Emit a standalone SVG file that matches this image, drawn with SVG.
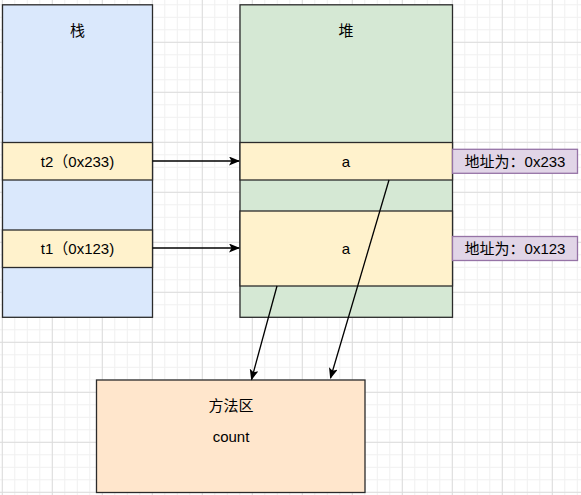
<svg xmlns="http://www.w3.org/2000/svg" width="581" height="495" viewBox="0 0 581 495">
  <defs>
    <pattern id="minor" width="12.5" height="12.5" x="1.8" y="4.3" patternUnits="userSpaceOnUse">
      <path d="M0.5,0 V12.5 M0,0.5 H12.5" stroke="#f0f0f0" stroke-width="1" fill="none"/>
    </pattern>
    <pattern id="major" width="50" height="50" x="1.8" y="-8.2" patternUnits="userSpaceOnUse">
      <path d="M0.5,0 V50 M0,0.5 H50" stroke="#dcdcdc" stroke-width="1" fill="none"/>
    </pattern>
    <marker id="arrow" markerWidth="12" markerHeight="10" refX="10" refY="4.5" orient="auto" markerUnits="userSpaceOnUse">
      <path d="M0,0 L11,4.5 L0,9 L2.5,4.5 Z" fill="#000"/>
    </marker>
    <style>
      .box { stroke: #2b2b2b; stroke-width: 1.3; }
      .stack { fill: #dae8fc; }
      .heap { fill: #d5e8d4; }
      .cell { fill: #fff2cc; }
      .method { fill: #ffe6cc; }
      .addr { fill: #e1d5e7; stroke: #9673a6; stroke-width: 1.3; }
      text { font-family: "Liberation Sans", Arial, "Noto Sans CJK SC", sans-serif; font-size: 15px; fill: #000; text-anchor: middle; dominant-baseline: central; }
      .conn { stroke: #000; stroke-width: 1.3; fill: none; }
    </style>
  </defs>
  <rect width="581" height="495" fill="#ffffff"/>
  <rect width="581" height="495" fill="url(#minor)"/>
  <rect width="581" height="495" fill="url(#major)"/>

  <g id="stack">
    <rect class="box stack" x="2.5" y="4.8" width="150" height="312.5"/>
    <text x="77.5" y="30">栈</text>
  </g>
  <g id="stack-t2">
    <rect class="box cell" x="2.5" y="142.5" width="150" height="37.5"/>
    <text x="77.5" y="161">t2（0x233)</text>
  </g>
  <g id="stack-t1">
    <rect class="box cell" x="2.5" y="230" width="150" height="37.5"/>
    <text x="77.5" y="248.5">t1（0x123)</text>
  </g>

  <g id="heap">
    <rect class="box heap" x="240" y="4.8" width="212.5" height="312.5"/>
    <text x="346" y="30">堆</text>
  </g>
  <g id="heap-a1">
    <rect class="box cell" x="240" y="142.5" width="212.5" height="37.5"/>
    <text x="346" y="161">a</text>
  </g>
  <g id="heap-a2">
    <rect class="box cell" x="240" y="211" width="212.5" height="75"/>
    <text x="346" y="248.5">a</text>
  </g>

  <g id="addr1">
    <rect class="addr" x="452.5" y="149.3" width="125" height="24"/>
    <text x="515" y="161">地址为：0x233</text>
  </g>
  <g id="addr2">
    <rect class="addr" x="452.5" y="236.5" width="125" height="24"/>
    <text x="515" y="248.5">地址为：0x123</text>
  </g>

  <g id="method-area">
    <rect class="box method" x="96.5" y="380" width="268.5" height="112.5"/>
    <text x="231" y="405">方法区</text>
    <text x="231" y="436">count</text>
  </g>

  <g id="connectors">
    <line class="conn" x1="152.5" y1="161" x2="239" y2="161" marker-end="url(#arrow)"/>
    <line class="conn" x1="152.5" y1="248" x2="239" y2="248" marker-end="url(#arrow)"/>
    <line class="conn" x1="389" y1="180" x2="330.5" y2="378" marker-end="url(#arrow)"/>
    <line class="conn" x1="277" y1="286" x2="251.5" y2="379.5" marker-end="url(#arrow)"/>
  </g>
</svg>
